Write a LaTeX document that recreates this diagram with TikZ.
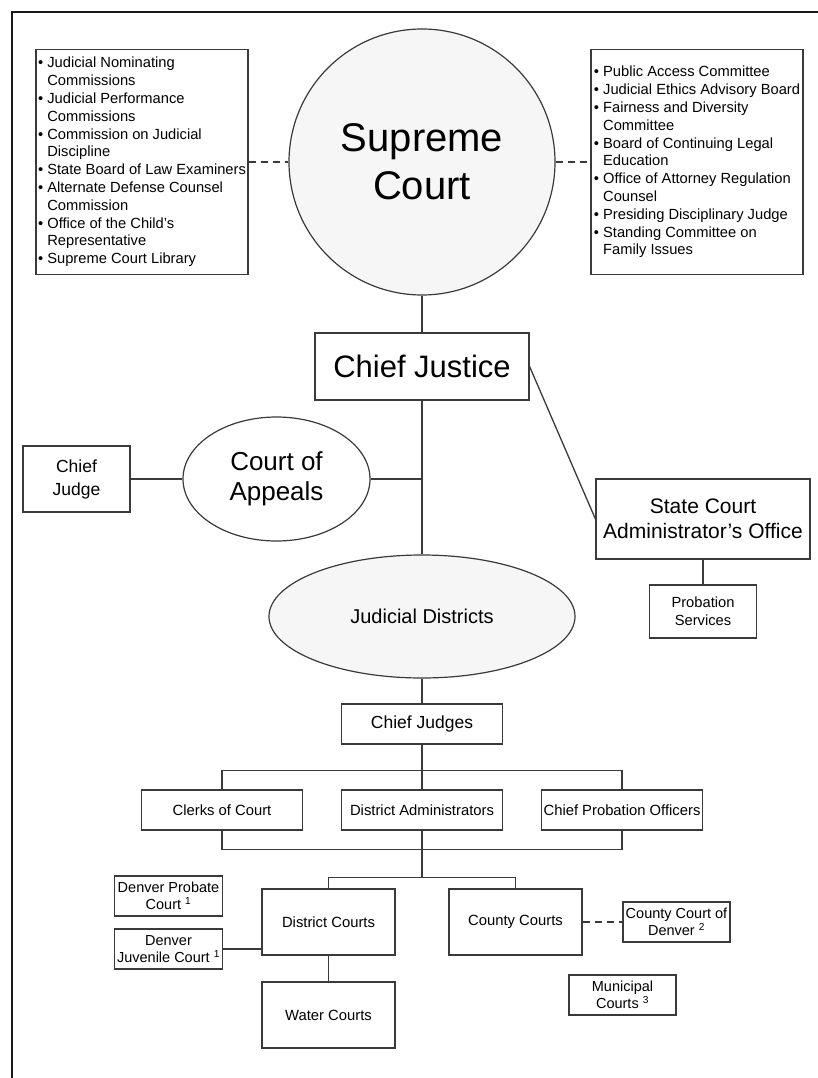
\documentclass[tikz,border=0pt]{standalone}
\usepackage{fontspec}
\setmainfont{Liberation Sans}
\usetikzlibrary{shapes.geometric}
\usetikzlibrary{positioning,calc}
\definecolor{courtFill}{HTML}{F6F6F6}
\definecolor{lineGray}{HTML}{3A3A3A}
\newcommand{\bulletItem}{\textbullet\ }
\newcommand{\bulletCont}{\phantom{\textbullet\ }}

\begin{document}
\begin{tikzpicture}[
  x=1pt, y=-1pt,
  line/.style={draw=lineGray, line width=1.3pt},
  dashline/.style={draw=lineGray, line width=1.3pt, dash pattern=on 7pt off 5pt}
]
	\tikzstyle{listBox} = [rectangle, draw=lineGray, line width=1.2pt, minimum width=212pt, minimum height=225pt, inner sep=0pt, align=left, font=\fontsize{14.7}{17.8}\selectfont]
	\tikzstyle{bigCircle} = [circle, draw=lineGray, line width=1.2pt, fill=courtFill, minimum size=266pt, inner sep=0pt, align=center, font=\fontsize{40}{48}\selectfont]
	\tikzstyle{bigBox} = [rectangle, draw=lineGray, line width=1.2pt, minimum width=214pt, minimum height=67pt, inner sep=0pt, font=\fontsize{31}{36}\selectfont]
	\tikzstyle{adminBox} = [rectangle, draw=lineGray, line width=1.2pt, minimum width=214pt, minimum height=80pt, inner sep=0pt, align=center, font=\fontsize{21}{25}\selectfont]
	\tikzstyle{appealsEllipse} = [ellipse, draw=lineGray, line width=1.2pt, fill=white, minimum width=187pt, minimum height=124pt, inner sep=0pt, align=center, font=\fontsize{26}{30}\selectfont]
	\tikzstyle{districtEllipse} = [ellipse, draw=lineGray, line width=1.2pt, fill=courtFill, minimum width=306pt, minimum height=123pt, inner sep=0pt, font=\fontsize{20}{24}\selectfont]
	\tikzstyle{midBox} = [rectangle, draw=lineGray, line width=1.2pt, minimum width=161pt, minimum height=40pt, inner sep=0pt, font=\fontsize{14.8}{18}\selectfont]
	\tikzstyle{courtBox} = [rectangle, draw=lineGray, line width=1.2pt, minimum width=133pt, minimum height=66pt, inner sep=0pt, font=\fontsize{14.8}{18}\selectfont]
	\tikzstyle{smallBox} = [rectangle, draw=lineGray, line width=1.2pt, minimum width=107pt, minimum height=40pt, inner sep=0pt, align=center, font=\fontsize{14.5}{17.3}\selectfont]

	\useasboundingbox (0,0) rectangle (818,1078);
	\draw [line width=2.5pt, black!90] (12,1100) -- (12,12) -- (840,12);

	\node (supremeCourt) [bigCircle] at (422,162) {Supreme\\Court};
	\node (leftList) [listBox, left of=supremeCourt, node distance=280pt] {%
		\bulletItem Judicial Nominating\\ \bulletCont Commissions\\
		\bulletItem Judicial Performance\\ \bulletCont Commissions\\
		\bulletItem Commission on Judicial\\ \bulletCont Discipline\\
		\bulletItem State Board of Law Examiners\\
		\bulletItem Alternate Defense Counsel\\ \bulletCont Commission\\
		\bulletItem Office of the Child's\\ \bulletCont Representative\\
		\bulletItem Supreme Court Library};
	\node (rightList) [listBox, right of=supremeCourt, node distance=275pt] {%
		\bulletItem Public Access Committee\\
		\bulletItem Judicial Ethics Advisory Board\\
		\bulletItem Fairness and Diversity\\ \bulletCont Committee\\
		\bulletItem Board of Continuing Legal\\ \bulletCont Education\\
		\bulletItem Office of Attorney Regulation\\ \bulletCont Counsel\\
		\bulletItem Presiding Disciplinary Judge\\
		\bulletItem Standing Committee on\\ \bulletCont Family Issues};

	\node (chiefJustice) [bigBox, below of=supremeCourt, node distance=204.5pt] {Chief Justice};
	\node (courtAppeals) [appealsEllipse, below of=chiefJustice, node distance=112.5pt, xshift=-145.5pt] {Court of\\Appeals};
	\node (chiefJudge) [smallBox, left of=courtAppeals, node distance=200pt, minimum height=66pt, font=\fontsize{17.5}{23}\selectfont] {Chief\\Judge};
	\node (stateAdmin) [adminBox, right of=chiefJustice, node distance=281pt, yshift=-152.5pt] {State Court\\Administrator's Office};
	\node (probationServices) [smallBox, below of=stateAdmin, node distance=92.5pt, minimum height=53pt, font=\fontsize{14.7}{18}\selectfont] {Probation\\Services};

	\node (judicialDistricts) [districtEllipse, below of=chiefJustice, node distance=250pt] {Judicial Districts};
	\node (chiefJudges) [midBox, below of=judicialDistricts, node distance=107.5pt, font=\fontsize{17.5}{21}\selectfont] {Chief Judges};
	\node (districtAdmins) [midBox, below of=chiefJudges, node distance=86pt] {District Administrators};
	\node (clerksCourt) [midBox, left of=districtAdmins, node distance=200pt] {Clerks of Court};
	\node (probationOfficers) [midBox, right of=districtAdmins, node distance=200pt] {Chief Probation Officers};

	\node (districtCourts) [courtBox, below of=districtAdmins, node distance=112pt, xshift=-93.5pt] {District Courts};
	\node (countyCourts) [courtBox, right of=districtCourts, node distance=187pt] {County Courts};
	\node (waterCourts) [courtBox, below of=districtCourts, node distance=93pt] {Water Courts};
	\node (denverJuvenile) [smallBox, left of=districtCourts, node distance=160pt, yshift=-27pt, minimum width=108pt] {Denver\\Juvenile Court \textsuperscript{1}};
	\node (denverProbate) [smallBox, above of=denverJuvenile, node distance=53pt, minimum width=108pt] {Denver Probate\\Court \textsuperscript{1}};
	\node (countyDenver) [smallBox, right of=countyCourts, node distance=161pt] {County Court of\\Denver \textsuperscript{2}};
	\node (municipalCourts) [smallBox, below of=countyDenver, node distance=73pt, xshift=-54pt] {Municipal\\Courts \textsuperscript{3}};

	% connectors
	\draw [dashline] (leftList) -- (supremeCourt);
	\draw [dashline] (supremeCourt) -- (rightList);
	\draw [line] (supremeCourt) -- (chiefJustice);
	\draw [line] (chiefJustice) -- (judicialDistricts);
	\coordinate (appealsJoin) at (chiefJustice.south |- courtAppeals.east);
	\draw [line] (courtAppeals.east) -- (appealsJoin);
	\draw [line] (chiefJudge) -- (courtAppeals);
	\draw [line] (chiefJustice.east) -- (stateAdmin.west);
	\draw [line] (stateAdmin) -- (probationServices);

	\draw [line] (judicialDistricts) -- (chiefJudges);
	\draw [line] (chiefJudges) -- (districtAdmins);
	\coordinate (busTop) at ([yshift=-26pt]chiefJudges.south);
	\draw [line] (clerksCourt.north) |- (busTop) -| (probationOfficers.north);
	\coordinate (busLow) at ([yshift=-19pt]districtAdmins.south);
	\draw [line] (clerksCourt.south) |- (busLow) -| (probationOfficers.south);
	\coordinate (courtSplit) at ([yshift=-47pt]districtAdmins.south);
	\draw [line] (districtAdmins.south) -- (courtSplit);
	\draw [line] (districtCourts.north) |- (courtSplit) -| (countyCourts.north);
	\draw [line] (districtCourts) -- (waterCourts);
	\draw [line] (denverJuvenile.east) -- (denverJuvenile.east -| districtCourts.west);
	\draw [dashline] (countyCourts) -- (countyDenver);
\end{tikzpicture}
\end{document}
